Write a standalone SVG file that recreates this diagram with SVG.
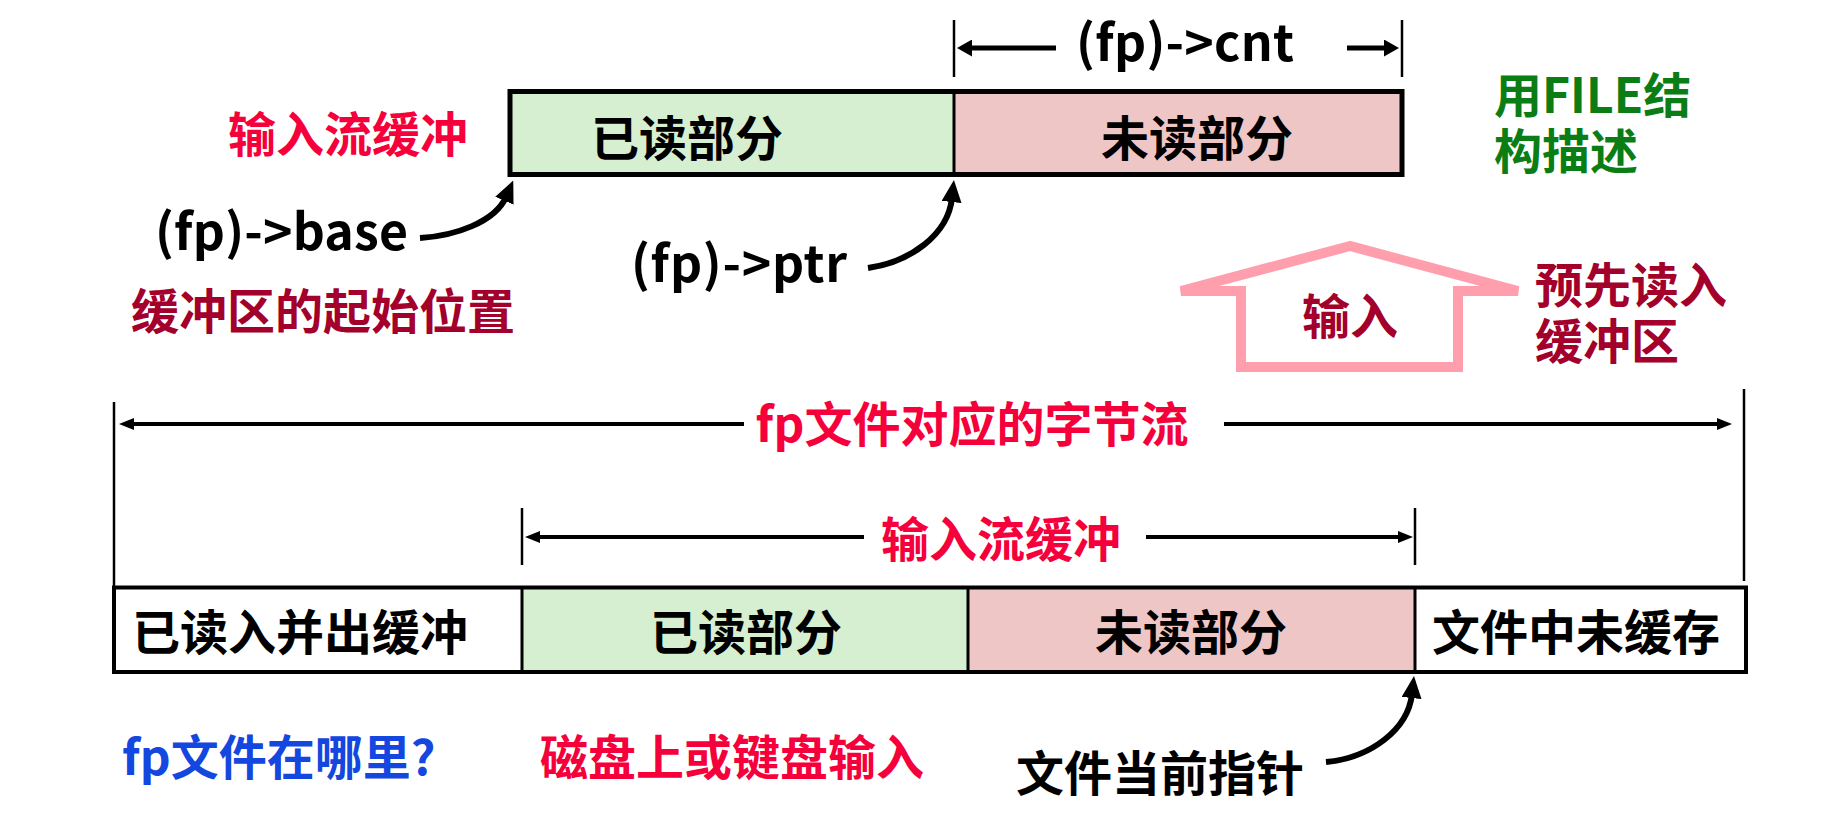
<svg xmlns="http://www.w3.org/2000/svg" width="1823" height="815" viewBox="0 0 1823 815">
<defs>
<style>
.cjk{font-family:"Noto Sans CJK SC","Noto Sans",sans-serif;font-weight:bold;font-size:48px;dominant-baseline:central}
.mid{text-anchor:middle}
.lat{font-family:"Noto Sans CJK SC","Noto Sans",sans-serif;font-weight:bold;font-size:50px;fill:#000}
.red{fill:#F5003A}
.dred{fill:#A3002B}
.grn{fill:#0A7D14}
.blu{fill:#1446E0}
.blk{fill:#000}
.dim{stroke:#000;stroke-width:4;fill:none}
.tick{stroke:#000;stroke-width:2.5;fill:none}
.curve{stroke:#000;stroke-width:6;fill:none}
.green{fill:#D5EFD0}
.pink{fill:#EFC6C6}
</style>
<marker id="ah" markerUnits="userSpaceOnUse" markerWidth="15" markerHeight="12" refX="3" refY="6" orient="auto">
<path d="M0,0 L15,6 L0,12 Z" fill="#000"/>
</marker>
<marker id="ahb" markerUnits="userSpaceOnUse" markerWidth="15" markerHeight="17" refX="3" refY="8.5" orient="auto">
<path d="M0,0 L15,8.5 L0,17 Z" fill="#000"/>
</marker>
<marker id="big" markerUnits="userSpaceOnUse" markerWidth="22" markerHeight="20" refX="4" refY="10" orient="auto">
<path d="M0,0 L22,10 L0,20 Z" fill="#000"/>
</marker>
</defs>
<rect width="1823" height="815" fill="#FFFFFF"/>

<g id="top-buffer">
<rect class="green" x="510" y="91.5" width="444" height="83"/>
<rect class="pink" x="954" y="91.5" width="448" height="83"/>
<rect x="510" y="91.5" width="892" height="83" fill="none" stroke="#000" stroke-width="5"/>
<line x1="954" y1="91.5" x2="954" y2="174.5" stroke="#000" stroke-width="3"/>
<text class="cjk mid blk" x="687" y="135">已读部分</text>
<text class="cjk mid blk" x="1197" y="135">未读部分</text>
</g>

<g id="bottom-stream">
<rect fill="#FFFFFF" x="114" y="587.5" width="408" height="84.5"/>
<rect class="green" x="522" y="587.5" width="446" height="84.5"/>
<rect class="pink" x="968" y="587.5" width="447" height="84.5"/>
<rect fill="#FFFFFF" x="1415" y="587.5" width="331" height="84.5"/>
<rect x="114" y="587.5" width="1632" height="84.5" fill="none" stroke="#000" stroke-width="4"/>
<line x1="522" y1="587.5" x2="522" y2="672" stroke="#000" stroke-width="3"/>
<line x1="968" y1="587.5" x2="968" y2="672" stroke="#000" stroke-width="3"/>
<line x1="1415" y1="587.5" x2="1415" y2="672" stroke="#000" stroke-width="3"/>
<text class="cjk mid blk" x="300" y="629">已读入并出缓冲</text>
<text class="cjk mid blk" x="746" y="629">已读部分</text>
<text class="cjk mid blk" x="1191" y="629">未读部分</text>
<text class="cjk mid blk" x="1576" y="629">文件中未缓存</text>
</g>

<g id="input-arrow">
<polygon points="1350,246 1181,291 1241,291 1241,367 1458,367 1458,291 1518,291" fill="#FFFFFF" stroke="#FF9EAD" stroke-width="10" stroke-linejoin="miter"/>
<text class="cjk mid dred" x="1350" y="313">输入</text>
</g>

<g id="labels">
<text class="cjk mid red" x="348" y="131">输入流缓冲</text>
<text class="cjk mid dred" x="323" y="308">缓冲区的起始位置</text>
<text class="lat" x="155" y="250" textLength="253">(fp)->base</text>
<text class="lat" x="631" y="282" textLength="216">(fp)->ptr</text>
<text class="lat" x="1076" y="61" textLength="218">(fp)->cnt</text>
<text class="cjk grn" x="1494" y="92">用FILE结</text>
<text class="cjk grn" x="1494" y="148">构描述</text>
<text class="cjk dred" x="1535" y="282">预先读入</text>
<text class="cjk dred" x="1535" y="338">缓冲区</text>
<text class="cjk mid red" x="972" y="421">fp文件对应的字节流</text>
<text class="cjk mid red" x="1001" y="536">输入流缓冲</text>
<text class="cjk blu" x="122" y="754">fp文件在哪里?</text>
<text class="cjk mid red" x="732" y="754">磁盘上或键盘输入</text>
<text class="cjk mid blk" x="1160" y="770">文件当前指针</text>
</g>

<g id="connectors">
<line class="tick" x1="954" y1="20" x2="954" y2="77"/>
<line class="tick" x1="1402" y1="20" x2="1402" y2="77"/>
<line x1="1056" y1="48" x2="969" y2="48" stroke="#000" stroke-width="5" marker-end="url(#ahb)"/>
<line x1="1347" y1="48" x2="1387" y2="48" stroke="#000" stroke-width="5" marker-end="url(#ahb)"/>

<line class="tick" x1="114" y1="402" x2="114" y2="588"/>
<line class="tick" x1="1744" y1="389" x2="1744" y2="581"/>
<line class="dim" x1="744" y1="424" x2="131" y2="424" marker-end="url(#ah)"/>
<line class="dim" x1="1224" y1="424" x2="1720" y2="424" marker-end="url(#ah)"/>

<line class="tick" x1="522" y1="508" x2="522" y2="565"/>
<line class="tick" x1="1415" y1="508" x2="1415" y2="565"/>
<line class="dim" x1="864" y1="537" x2="537" y2="537" marker-end="url(#ah)"/>
<line class="dim" x1="1146" y1="537" x2="1401" y2="537" marker-end="url(#ah)"/>

<path class="curve" d="M420,238 C455,236 495,222 506,197" marker-end="url(#big)"/>
<path class="curve" d="M868,268 C910,262 948,235 952,198" marker-end="url(#big)"/>
<path class="curve" d="M1326,762 C1370,758 1408,730 1412,694" marker-end="url(#big)"/>
</g>
</svg>
